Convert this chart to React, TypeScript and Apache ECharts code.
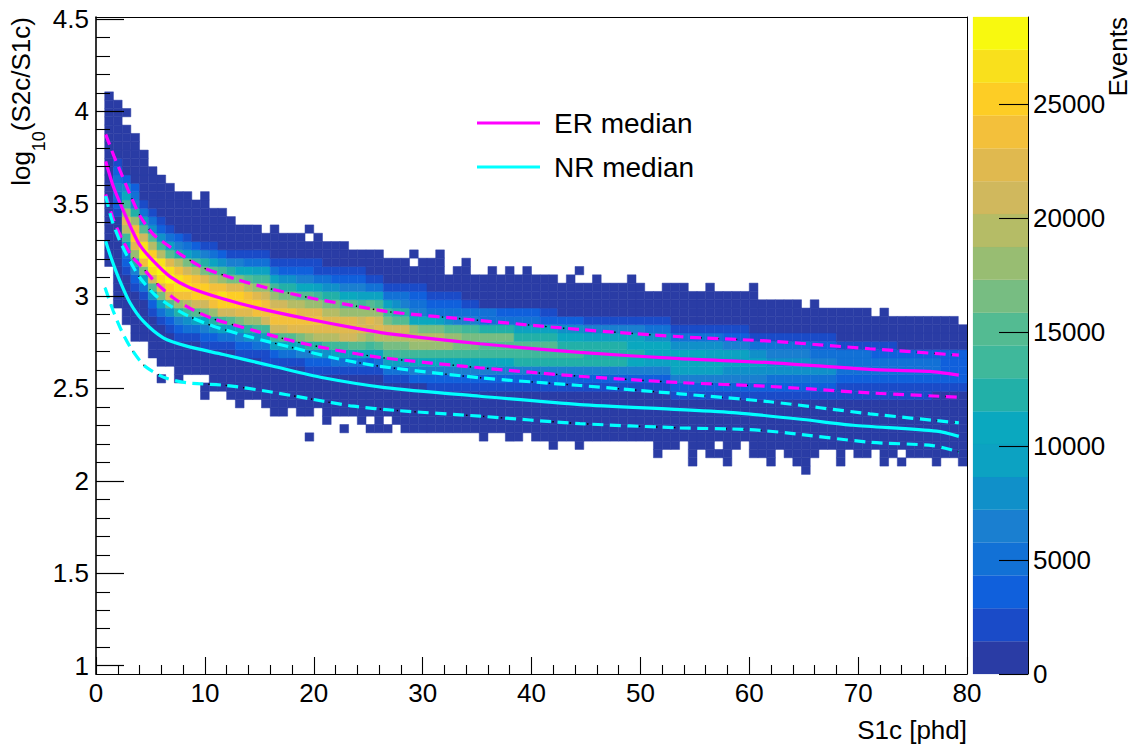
import React, { useEffect, useRef } from "react";
import * as echarts from "echarts";

// ---- 2D histogram: 100 bins of 0.8 phd, rows of 0.045 in log10 ----
const xBinWidth = 0.8;
const yBinHeight = 0.045;
const yMin = 0.955;
const yMax = 4.51;
const eventsMax = 28816;

// highest and lowest filled row of each column (row k spans 1 + 0.045 k .. 1 + 0.045 (k + 1))
const colTop = [
  -1, 68, 67, 66, 63, 61, 59, 58, 57, 56, 56,
  55, 56, 54, 54, 53, 52, 52, 52, 51, 52,
  51, 51, 51, 52, 51, 50, 50, 50, 49, 49,
  49, 49, 48, 48, 48, 49, 48, 48, 49, 46,
  47, 48, 46, 46, 47, 46, 47, 46, 47, 46,
  46, 46, 45, 46, 47, 45, 46, 45, 45, 45,
  46, 45, 44, 44, 45, 45, 45, 44, 44, 45,
  44, 44, 44, 44, 45, 43, 43, 43, 43, 43,
  42, 43, 42, 42, 42, 42, 42, 42, 41, 42,
  41, 41, 41, 41, 41, 41, 41, 41, 40,
];
const colBottom = [
  0, 48, 43, 41, 39, 39, 37, 34, 36, 34, 35,
  35, 32, 33, 33, 32, 31, 32, 32, 31, 30,
  30, 31, 30, 30, 31, 29, 30, 30, 30, 29,
  28, 28, 28, 29, 28, 28, 28, 28, 28, 28,
  28, 28, 28, 27, 28, 28, 27, 27, 28, 27,
  27, 26, 27, 27, 26, 27, 27, 27, 27, 27,
  27, 27, 27, 25, 26, 26, 27, 24, 26, 25,
  25, 24, 26, 27, 25, 25, 24, 26, 25, 24,
  23, 25, 26, 26, 24, 26, 25, 25, 26, 24,
  25, 24, 25, 25, 25, 24, 25, 25, 24,
];
// [column, row] pairs that are empty inside a column, and filled outside of it
const emptyCells = [[3, 65], [7, 35], [12, 34], [24, 51], [31, 29], [33, 29], [36, 48], [55, 46], [71, 26], [92, 25]];
const strayCells = [[24, 27], [28, 28]];

// first row of the non-zero core of each column, and its levels upward (0-9, a-j = palette bands)
const coreStart = [
  0, 0, 54, 47, 45, 44, 42, 41, 40, 39, 39,
  39, 38, 38, 38, 38, 37, 37, 37, 36, 36,
  36, 36, 36, 35, 35, 35, 35, 35, 35, 35,
  35, 35, 34, 34, 34, 34, 34, 33, 33, 33,
  33, 33, 33, 33, 33, 33, 33, 33, 33, 33,
  33, 33, 33, 33, 33, 33, 33, 33, 33, 33,
  33, 33, 33, 33, 33, 32, 32, 32, 32, 32,
  32, 32, 32, 32, 32, 32, 32, 32, 32, 32,
  32, 32, 32, 32, 32, 32, 32, 32, 32, 32,
  32, 32, 32, 32, 32, 33, 33, 33, 33,
];
const coreLevels = [
  "", "", "1234321", "12369dfc9752", "1248cfhgc8432", "136bgjiea631", "125aeijhda531", "136bfijid9521", "125afhjifa631", "1248cgiigd842", "1359dgiheb631",
  "136aehhgd952", "1247behhfb841", "1258cghgda631", "1369ehigc952", "136aehhfb841", "1247bfhhfb741", "1258cfhgda731", "1359cghfc9631", "11369eggec9631", "1269eggec9631",
  "136aeggeb8521", "137afggdb8521", "147bfgfda7421", "1248cfgfca7421", "1258dfgfc96311", "1259dffdb8531", "1369dffdb8521", "1369effca7421", "136aeffca7421", "137adfec96421",
  "1269cefca631", "136adfec9631", "1369bdeb9631", "1369bdea8531", "1369bdea8431", "2479cdc74321", "2479cdb74321", "12479cdb7321", "12479cdb6321", "12479cca5321",
  "12479bca4321", "12479bb9431", "12479bb9431", "12479ab833", "12479ab833", "12479ab832", "12479ab832", "12489a8632", "12489a8632", "12489a8632",
  "12489a8621", "12489a8621", "124898752", "124898752", "124898752", "124888641", "124888641", "124888641", "124888641", "124888641",
  "124787641", "124787641", "124677531", "124677531", "124677531", "124677531", "124677531", "124677531", "124677531", "124676531",
  "124676531", "124566421", "124566421", "124566421", "12456531", "12456531", "12355431", "12355431", "12355431", "12355431",
  "12355431", "12354321", "12354321", "12354321", "1123331", "1123331", "1123331", "1123331", "1123321", "1123321",
  "1123321", "112332", "112332", "112332", "112332", "12332", "12222", "12222", "12222",
];

// ---- colour palette (bottom to top of the colour bar) ----
const palette = [
  "#2a3ca5", "#1a4bc8", "#1060dc", "#1271d6", "#1a7fd0", "#1090c9", "#0ca2c2", "#0aa8bf", "#22b0a8", "#3fb89b",
  "#53bb92", "#77bd82", "#98bd72", "#b5bc66", "#d0b85d", "#e0b94f", "#f3c03b", "#fdcd25", "#f9e01c", "#f8f90f",
];

// ---- curves: [S1c, log10(S2c/S1c)] ----
const erMedian = [
  [0.89, 3.729], [1.59, 3.593], [2.42, 3.474], [3.28, 3.361], [4.04, 3.274], [5.26, 3.19], [6.8, 3.105],
  [8.63, 3.045], [11.66, 2.985], [14.76, 2.936], [19.19, 2.879], [23.94, 2.825], [27.0, 2.795], [35.26, 2.742],
  [44.44, 2.695], [53.63, 2.661], [61.89, 2.64], [71.07, 2.603], [76.58, 2.592], [79.25, 2.572],
];
const erUpper = [
  [0.89, 3.875], [1.65, 3.757], [2.42, 3.649], [3.19, 3.541], [4.04, 3.433], [5.26, 3.334], [6.49, 3.279], [8.02, 3.216],
  [9.85, 3.153], [12.92, 3.09], [15.98, 3.04], [19.95, 2.987], [23.94, 2.945], [27.0, 2.914], [35.26, 2.868],
  [44.44, 2.819], [53.63, 2.78], [61.89, 2.756], [71.07, 2.715], [79.25, 2.68],
];
const erLower = [
  [0.89, 3.55], [1.59, 3.415], [2.42, 3.306], [3.28, 3.216], [4.2, 3.158], [5.57, 3.068], [7.25, 2.984], [8.93, 2.925],
  [10.77, 2.877], [14.42, 2.815], [18.12, 2.756], [22.1, 2.707], [26.35, 2.666], [35.26, 2.612], [44.44, 2.566],
  [53.63, 2.532], [61.89, 2.511], [71.07, 2.476], [79.25, 2.453],
];
const nrMedian = [
  [0.89, 3.297], [1.44, 3.198], [2.2, 3.081], [3.12, 2.964], [4.34, 2.864], [6.18, 2.774], [8.33, 2.729], [11.69, 2.684],
  [16.28, 2.62], [20.87, 2.558], [26.54, 2.505], [35.26, 2.458], [44.44, 2.413], [53.63, 2.386], [58.83, 2.368],
  [64.95, 2.332], [69.54, 2.301], [77.2, 2.269], [79.25, 2.241],
];
const nrUpper = [
  [0.89, 3.541], [1.44, 3.415], [2.2, 3.297], [3.12, 3.189], [4.04, 3.099], [5.42, 3.006], [7.1, 2.937], [8.63, 2.888],
  [10.77, 2.837], [14.44, 2.774], [18.12, 2.72], [21.79, 2.666], [26.08, 2.62], [35.26, 2.558], [44.44, 2.516],
  [53.63, 2.471], [61.89, 2.428], [71.07, 2.363], [79.25, 2.314],
];
const nrLower = [
  [0.83, 3.045], [1.59, 2.918], [2.36, 2.81], [3.28, 2.711], [4.5, 2.62], [6.34, 2.558], [8.33, 2.531], [12.0, 2.516],
  [15.68, 2.485], [19.65, 2.444], [23.63, 2.404], [27.6, 2.381], [35.26, 2.35], [44.44, 2.31], [53.63, 2.287],
  [59.75, 2.278], [63.42, 2.26], [71.07, 2.209], [76.86, 2.191], [79.25, 2.157],
];

// ---- ticks ----
const yMajorTicks = [1, 1.5, 2, 2.5, 3, 3.5, 4, 4.5];
const yMinorTicks = [1.1, 1.2, 1.3, 1.4, 1.6, 1.7, 1.8, 1.9, 2.1, 2.2, 2.3, 2.4, 2.6, 2.7, 2.8, 2.9, 3.1, 3.2, 3.3, 3.4, 3.6, 3.7, 3.8, 3.9, 4.1, 4.2, 4.3, 4.4];
const eventTicks = [0, 5000, 10000, 15000, 20000, 25000];

const FONT = "Liberation Sans";

function buildCells() {
  const cells: number[][] = [];
  const isEmpty = (c: number, k: number) => emptyCells.some((e) => e[0] === c && e[1] === k);
  for (let c = 1; c < colTop.length; c++) {
    for (let k = colBottom[c]; k <= colTop[c]; k++) {
      if (isEmpty(c, k)) continue;
      const ch = coreLevels[c][k - coreStart[c]];
      const level = ch === undefined ? 0 : parseInt(ch, 20);
      cells.push([c * xBinWidth, 1 + k * yBinHeight, level]);
    }
  }
  strayCells.forEach(([c, k]) => cells.push([c * xBinWidth, 1 + k * yBinHeight, 0]));
  return cells;
}

function renderCell(_: any, api: any) {
  const x0 = api.value(0);
  const y0 = api.value(1);
  const p0 = api.coord([x0, y0]);
  const p1 = api.coord([x0 + xBinWidth, y0 + yBinHeight]);
  const color = palette[api.value(2)];
  return {
    type: "rect",
    shape: { x: p0[0], y: p1[1], width: p1[0] - p0[0], height: p0[1] - p1[1] },
    style: { fill: color, stroke: color, lineWidth: 0.5 },
  };
}

function renderBand(_: any, api: any) {
  const level = api.value(0);
  const step = eventsMax / palette.length;
  const p0 = api.coord([0, level * step]);
  const p1 = api.coord([1, (level + 1) * step]);
  return {
    type: "rect",
    shape: { x: p0[0], y: p1[1], width: p1[0] - p0[0], height: p0[1] - p1[1] },
    style: { fill: palette[level], stroke: palette[level], lineWidth: 0.2 },
  };
}

function curve(name: string | undefined, data: number[][], color: string, z: number, dash?: any, width = 3.2) {
  return {
    type: "line",
    name,
    data,
    xAxisIndex: 0,
    yAxisIndex: 0,
    symbol: "none",
    smooth: 0.25,
    z,
    silent: true,
    itemStyle: { color },
    lineStyle: { color, width, type: dash ?? "solid", cap: "butt" },
  };
}

const dotPattern = [1.4, 16.3, 1.4, 6.9, 1.4, 15.9];
const dashPattern = [11, 6.5];

export default function App() {
  const ref = useRef<HTMLDivElement>(null);
  useEffect(() => {
    const chart = echarts.init(ref.current!, undefined, { renderer: "svg" });
    const black = "#000";
    const dashed = [erUpper, erLower, nrUpper, nrLower];
    const dashColors = ["#ff00ff", "#ff00ff", "#00ffff", "#00ffff"];
    chart.setOption({
      animation: false,
      backgroundColor: "#fff",
      textStyle: { fontFamily: FONT },
      grid: [
        { left: 96, top: 17, width: 871, height: 657 },
        { left: 96, top: 17, width: 871, height: 657 },
        { left: 973, top: 17, width: 55, height: 657 },
      ],
      xAxis: [
        {
          gridIndex: 0, type: "value", min: 0, max: 80, interval: 10, position: "bottom", z: 10,
          axisLine: { show: true, onZero: false, lineStyle: { color: black, width: 1.2 } },
          axisTick: { show: true, inside: true, length: 17, lineStyle: { color: black, width: 1.1 } },
          minorTick: { show: true, splitNumber: 5, length: 9, lineStyle: { color: black, width: 1.1 } },
          axisLabel: { color: "#000", fontSize: 26, margin: 6, fontFamily: FONT, hideOverlap: false },
          splitLine: { show: false },
        },
        {
          gridIndex: 0, type: "value", min: 0, max: 80, position: "top", z: 10,
          axisLine: { show: true, onZero: false, lineStyle: { color: black, width: 1 } },
          axisTick: { show: false }, axisLabel: { show: false }, splitLine: { show: false },
        },
        { gridIndex: 1, type: "value", min: 0, max: 80, show: false },
        { gridIndex: 2, type: "value", min: 0, max: 1, show: false },
      ],
      yAxis: [
        {
          gridIndex: 0, type: "value", min: yMin, max: yMax, position: "left", z: 10,
          axisLine: { show: true, onZero: false, lineStyle: { color: black, width: 1.6 } },
          axisTick: { show: true, inside: true, length: 28, customValues: yMajorTicks, lineStyle: { color: black, width: 1.2 } },
          axisLabel: { color: "#000", fontSize: 26, margin: 7, customValues: yMajorTicks, fontFamily: FONT },
          splitLine: { show: false },
        },
        {
          gridIndex: 0, type: "value", min: yMin, max: yMax, position: "right", z: 10,
          axisLine: { show: true, onZero: false, lineStyle: { color: black, width: 1 } },
          axisTick: { show: false }, axisLabel: { show: false }, splitLine: { show: false },
        },
        {
          gridIndex: 1, type: "value", min: yMin, max: yMax, position: "left", z: 10,
          axisLine: { show: false, onZero: false },
          axisTick: { show: true, inside: true, length: 14, customValues: yMinorTicks, lineStyle: { color: black, width: 1.1 } },
          axisLabel: { show: false }, splitLine: { show: false },
        },
        {
          gridIndex: 2, type: "value", min: 0, max: eventsMax, position: "right", z: 10,
          axisLine: { show: true, onZero: false, lineStyle: { color: black, width: 1 } },
          axisTick: { show: true, inside: true, length: 29, customValues: eventTicks, lineStyle: { color: black, width: 1.1 } },
          axisLabel: { color: "#000", fontSize: 26, margin: 5, customValues: eventTicks, fontFamily: FONT, formatter: (v: number) => String(v) },
          splitLine: { show: false },
        },
      ],
      legend: {
        data: [
          { name: "ER median", icon: "rect" },
          { name: "NR median", icon: "rect" },
        ],
        orient: "vertical",
        left: 472,
        top: 104,
        itemWidth: 63,
        itemHeight: 3,
        itemGap: 16,
        selectedMode: false,
        textStyle: { color: "#000", fontSize: 28, fontFamily: FONT, padding: [0, 0, 0, 9] },
      },
      series: [
        {
          type: "custom", name: "events", xAxisIndex: 0, yAxisIndex: 0, z: 1, silent: true,
          coordinateSystem: "cartesian2d", renderItem: renderCell, data: buildCells(), clip: true,
        },
        {
          type: "custom", name: "colour bar", xAxisIndex: 3, yAxisIndex: 3, z: 1, silent: true,
          coordinateSystem: "cartesian2d", renderItem: renderBand, data: palette.map((_, i) => [i]),
          encode: { y: 0 },
        },
        ...dashed.map((d) => curve(undefined, d, "#000", 2, dotPattern, 1.4)),
        ...dashed.map((d, i) => curve(undefined, d, dashColors[i], 3, dashPattern, 3.2)),
        curve("ER median", erMedian, "#ff00ff", 4),
        curve("NR median", nrMedian, "#00ffff", 4),
      ],
      graphic: [
        {
          type: "text", x: 21, y: 17, rotation: Math.PI / 2, silent: true,
          style: {
            text: "log{sub|10}(S2c/S1c)",
            fill: "#000", font: `26px "${FONT}"`, align: "right", verticalAlign: "middle",
            rich: { sub: { fontSize: 18, fontFamily: FONT, lineHeight: 53, verticalAlign: "bottom", fill: "#000" } },
          },
        },
        {
          type: "text", x: 1118, y: 17, rotation: Math.PI / 2, silent: true,
          style: { text: "Events", fill: "#000", font: `26px "${FONT}"`, align: "right", verticalAlign: "middle" },
        },
        {
          type: "text", x: 967, y: 730, silent: true,
          style: { text: "S1c [phd]", fill: "#000", font: `26px "${FONT}"`, align: "right", verticalAlign: "middle" },
        },
      ],
    });
    return () => chart.dispose();
  }, []);
  return <div ref={ref} style={{ position: "fixed", left: 0, top: 0, width: 1134, height: 744 }} />;
}
